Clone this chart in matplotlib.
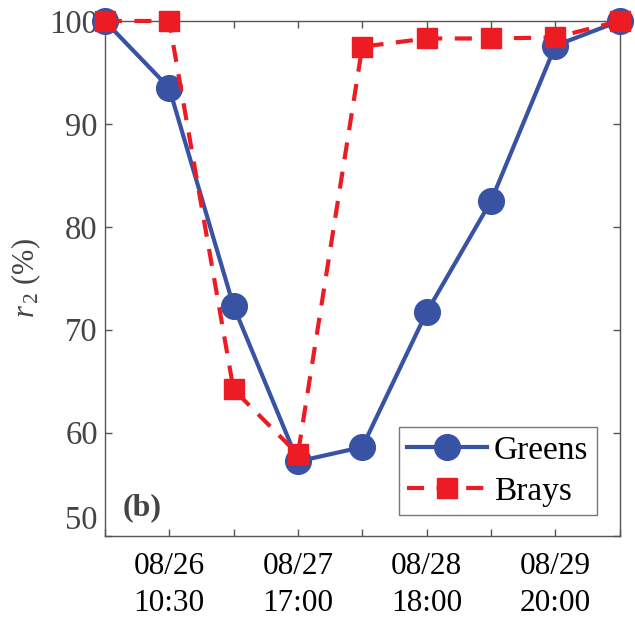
import matplotlib
matplotlib.use("Agg")
from matplotlib import pyplot as plt

# data
x_idx = [0, 1, 2, 3, 4, 5, 6, 7, 8]
greens = [100, 93.5, 72.3, 57.2, 58.6, 71.7, 82.5, 97.6, 100]
brays = [100, 100, 64.2, 57.9, 97.5, 98.3, 98.3, 98.4, 100]
tick_pos = [1, 3, 5, 7]
tick_labels = ["08/26\n10:30", "08/27\n17:00", "08/28\n18:00", "08/29\n20:00"]
y_ticks = [50, 60, 70, 80, 90, 100]

plt.rcParams['font.family'] = ['Liberation Serif', 'DejaVu Serif']
plt.rcParams['mathtext.fontset'] = 'custom'
plt.rcParams['mathtext.rm'] = 'Liberation Serif'
plt.rcParams['mathtext.it'] = 'Liberation Serif:italic'

blue = '#3953a4'
red = '#ed1c24'
gray = '#555555'

fig = plt.figure(figsize=(6.35, 6.17), dpi=100)
ax = fig.add_axes([0.165, 0.132, 0.811, 0.834])

ax.plot(x_idx, greens, color=blue, lw=3, marker='o', ms=18.5,
        label='Greens', clip_on=False, zorder=3)
ax.plot(x_idx, brays, color=red, lw=3, ls=(0, (4.1, 3.0)), marker='s', ms=14.5,
        label='Brays', clip_on=False, zorder=4)

ax.set_xlim(0, 8)
ax.set_ylim(50, 100)
ax.set_xticks(x_idx)
labels = [''] * len(x_idx)
for p, t in zip(tick_pos, tick_labels):
    labels[p] = t
ax.set_xticklabels(labels, linespacing=1.35)
ax.set_yticks(y_ticks)
ax.set_yticklabels([str(v) for v in y_ticks])

ax.tick_params(direction='in', top=True, right=True, length=5, width=1, color=gray)
ax.tick_params(axis='x', labelsize=22.5, labelcolor='black', pad=12)
ax.tick_params(axis='y', labelsize=23.5, labelcolor='#444444', pad=5)
ax.get_yticklabels()[0].set_va('bottom')
for s in ax.spines.values():
    s.set_color(gray)
    s.set_linewidth(1)

ax.set_ylabel(r'$r_{\,2}$ (%)', fontsize=22, color='#444444', labelpad=4)

ax.text(0.035, 0.025, '(b)', transform=ax.transAxes, fontsize=23,
        fontweight='bold', color='#444444', ha='left', va='bottom')

leg = ax.legend(loc='lower right', bbox_to_anchor=(0.955, 0.04), fontsize=24,
                frameon=True, fancybox=False, handlelength=2.4,
                borderpad=0.25, labelspacing=0.3, handletextpad=0.2,
                borderaxespad=0)
leg.get_frame().set_edgecolor(gray)
leg.get_frame().set_linewidth(1)

fig.savefig('out.png', dpi=100)
